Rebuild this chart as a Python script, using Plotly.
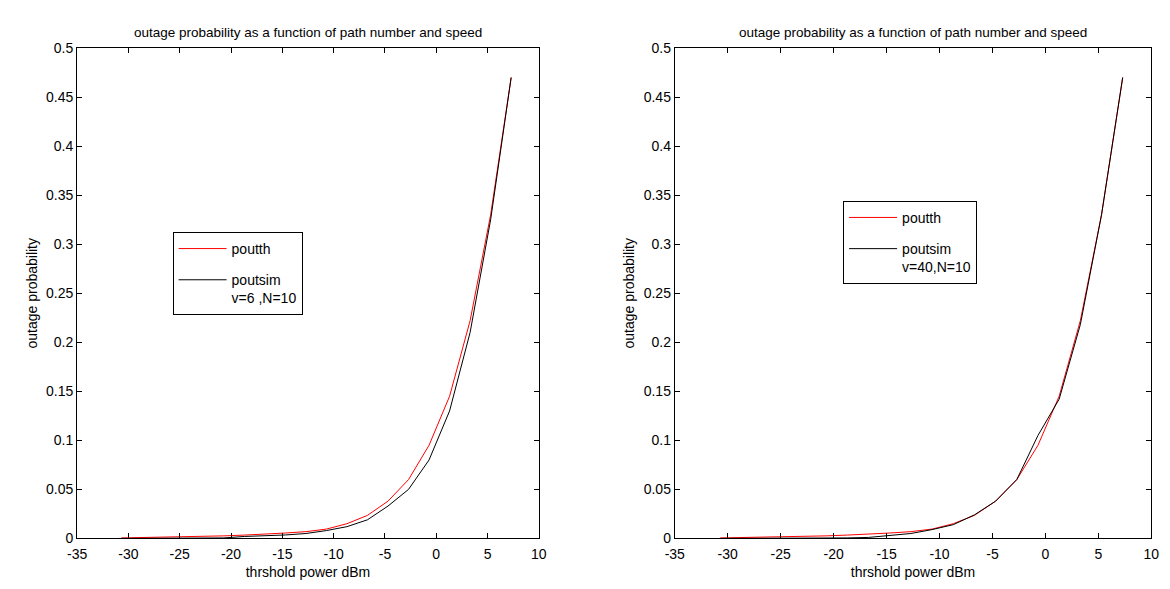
import plotly.graph_objects as go

# threshold power (dBm)
thr_dbm = [-30.7, -28.7, -26.7, -24.7, -22.7, -20.7, -18.7, -16.7, -14.7, -12.7,
           -10.7, -8.7, -6.7, -4.7, -2.7, -0.7, 1.3, 3.3, 5.3, 7.3]

# theoretical outage probability (same in both panels)
poutth = [0.0005, 0.0008, 0.0012, 0.0016, 0.0020, 0.0026, 0.0034, 0.0043, 0.0055, 0.0069,
          0.0095, 0.0150, 0.0235, 0.0380, 0.0600, 0.0950, 0.1450, 0.2220, 0.3300, 0.4700]

# simulated, v=6, N=10
poutsim_v6 = [0.0, 0.0, 0.0, 0.0, 0.0, 0.0005, 0.0020, 0.0025, 0.0035, 0.0050,
              0.0080, 0.0120, 0.0190, 0.0330, 0.0500, 0.0800, 0.1300, 0.2100, 0.3250, 0.4700]

# simulated, v=40, N=10
poutsim_v40 = [0.0, 0.0, 0.0, 0.0, 0.0, 0.0, 0.0005, 0.0010, 0.0030, 0.0050,
               0.0090, 0.0140, 0.0240, 0.0380, 0.0600, 0.1050, 0.1420, 0.2180, 0.3300, 0.4700]

x_ticks = [-35, -30, -25, -20, -15, -10, -5, 0, 5, 10]
y_ticks = [0, 0.05, 0.1, 0.15, 0.2, 0.25, 0.3, 0.35, 0.4, 0.45, 0.5]
y_tick_text = ["0", "0.05", "0.1", "0.15", "0.2", "0.25", "0.3", "0.35", "0.4", "0.45", "0.5"]

title_text = "outage probability as a function of path number and speed"
FONT = "Liberation Sans Narrow, Arial Narrow, Liberation Sans, Arial"
W, H = 1170, 589

fig = go.Figure()

fig.add_trace(go.Scatter(x=thr_dbm, y=poutth, mode="lines", name="poutth",
                         line=dict(color="#ff0000", width=1), xaxis="x", yaxis="y",
                         legend="legend", legendgroup="a"))
fig.add_trace(go.Scatter(x=thr_dbm, y=poutsim_v6, mode="lines", name="poutsim<br>v=6 ,N=10",
                         line=dict(color="#000000", width=1), xaxis="x", yaxis="y",
                         legend="legend", legendgroup="b"))
fig.add_trace(go.Scatter(x=thr_dbm, y=poutth, mode="lines", name="poutth",
                         line=dict(color="#ff0000", width=1), xaxis="x2", yaxis="y2",
                         legend="legend2", legendgroup="c"))
fig.add_trace(go.Scatter(x=thr_dbm, y=poutsim_v40, mode="lines", name="poutsim<br>v=40,N=10",
                         line=dict(color="#000000", width=1), xaxis="x2", yaxis="y2",
                         legend="legend2", legendgroup="d"))

ydom = [(H - 537) / H, (H - 33) / H]
xdom1 = [60 / W, 529 / W]
xdom2 = [667 / W, 1151 / W]

axcommon = dict(showgrid=False, zeroline=False, showline=True, linecolor="black",
                linewidth=1, mirror="ticks", ticks="inside", ticklen=5,
                tickcolor="black", tickfont=dict(family=FONT, size=14, color="black"))

xax = dict(range=[-35, 10], tickvals=x_ticks, ticktext=[str(v) for v in x_ticks],
           ticklabelstandoff=3,
           title=dict(text="thrshold power dBm", font=dict(family=FONT, size=14, color="black"),
                      standoff=5), **axcommon)
yax = dict(range=[0, 0.5], tickvals=y_ticks, ticktext=y_tick_text,
           title=dict(text="outage probability", font=dict(family=FONT, size=14, color="black"),
                      standoff=5), **axcommon)

legcommon = dict(bgcolor="white", bordercolor="black", borderwidth=1,
                 font=dict(family=FONT, size=14, color="black"),
                 xanchor="left", yanchor="top", valign="top",
                 itemwidth=48, traceorder="grouped", tracegroupgap=10)

fig.update_layout(
    width=W, height=H,
    paper_bgcolor="white", plot_bgcolor="white",
    margin=dict(l=0, r=0, t=0, b=0),
    showlegend=True,
    xaxis=dict(domain=xdom1, anchor="y", **xax),
    yaxis=dict(domain=ydom, anchor="x", **yax),
    xaxis2=dict(domain=xdom2, anchor="y2", **xax),
    yaxis2=dict(domain=ydom, anchor="x2", **yax),
    legend=dict(x=157 / W, y=(H - 222) / H, **legcommon),
    legend2=dict(x=838 / W, y=(H - 190) / H, **legcommon),
    annotations=[
        dict(text=title_text, x=(xdom1[0] + xdom1[1]) / 2, y=(H - 17) / H,
             xref="paper", yref="paper", showarrow=False, xanchor="center", yanchor="middle",
             font=dict(family=FONT, size=13.5, color="black")),
        dict(text=title_text, x=(xdom2[0] + xdom2[1]) / 2, y=(H - 17) / H,
             xref="paper", yref="paper", showarrow=False, xanchor="center", yanchor="middle",
             font=dict(family=FONT, size=13.5, color="black")),
    ],
)

fig.write_html("out.html")
